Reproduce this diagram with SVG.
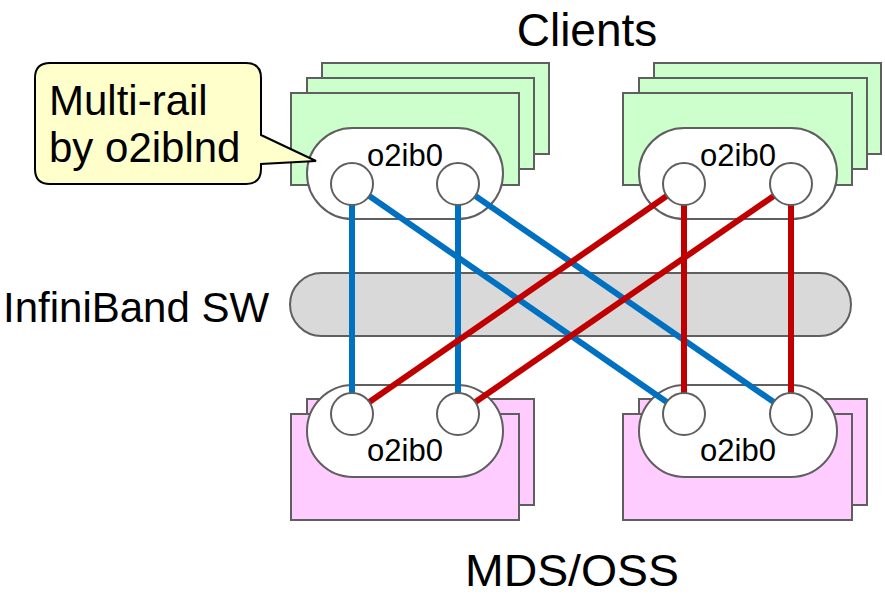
<svg xmlns="http://www.w3.org/2000/svg" width="885" height="596" viewBox="0 0 885 596">
<style>
.txt{font-family:"Liberation Sans",Arial,sans-serif;fill:#000}
.big{font-size:46px}
.mid{font-size:42px}
.lbl{font-size:31px;text-anchor:middle}
.cl{fill:#CCFFCC;stroke:#5F5F5F;stroke-width:2}
.sv{fill:#FFCCFF;stroke:#5F5F5F;stroke-width:2}
.pill{fill:#FFFFFF;stroke:#5F5F5F;stroke-width:2}
.port{fill:#FFFFFF;stroke:#5F5F5F;stroke-width:2}
.sw{fill:#D9D9D9;stroke:#5F5F5F;stroke-width:2}
.b{stroke:#0070C0;stroke-width:6;fill:none}
.r{stroke:#C00000;stroke-width:6;fill:none}
</style>

<text class="txt big" x="587" y="46" text-anchor="middle" font-size="47">Clients</text>
<text class="txt mid" x="3" y="322">InfiniBand SW</text>
<text class="txt" x="572" y="586" text-anchor="middle" font-size="45" textLength="214" lengthAdjust="spacingAndGlyphs">MDS/OSS</text>

<g id="switch">
<rect class="sw" x="290" y="273" width="561" height="63" rx="31.5" ry="31.5"/>
</g>

<g id="client-left">
<rect class="cl" x="322" y="63" width="227" height="91"/>
<rect class="cl" x="307" y="78" width="227" height="91"/>
<rect class="cl" x="291" y="93" width="228" height="92"/>
<rect class="pill" x="307" y="128" width="196" height="91" rx="45.5" ry="45.5"/>
</g>

<g id="client-right">
<rect class="cl" x="654" y="63" width="227" height="91"/>
<rect class="cl" x="639" y="78" width="228" height="91"/>
<rect class="cl" x="623" y="93" width="229" height="92"/>
<rect class="pill" x="639" y="128" width="198" height="91" rx="45.5" ry="45.5"/>
</g>

<g id="server-left">
<rect class="sv" x="307" y="399" width="227" height="106"/>
<rect class="sv" x="291" y="414" width="228" height="106"/>
<rect class="pill" x="307" y="385" width="196" height="92" rx="46" ry="46"/>
</g>

<g id="server-right">
<rect class="sv" x="639" y="399" width="228" height="106"/>
<rect class="sv" x="623" y="414" width="229" height="106"/>
<rect class="pill" x="639" y="385" width="198" height="92" rx="46" ry="46"/>
</g>

<g id="connectors">
<line class="b" x1="352" y1="184" x2="352" y2="414"/>
<line class="b" x1="458" y1="184" x2="458" y2="414"/>
<line class="b" x1="352" y1="184" x2="684" y2="414"/>
<line class="b" x1="458" y1="184" x2="791" y2="414"/>
<line class="r" x1="684" y1="184" x2="684" y2="414"/>
<line class="r" x1="791" y1="184" x2="791" y2="414"/>
<line class="r" x1="684" y1="184" x2="352" y2="414"/>
<line class="r" x1="791" y1="184" x2="458" y2="414"/>
</g>

<g id="client-left-ports">
<circle class="port" cx="352" cy="184" r="21"/>
<circle class="port" cx="458" cy="184" r="21"/>
<text class="txt lbl" x="405" y="166">o2ib0</text>
</g>
<g id="client-right-ports">
<circle class="port" cx="684" cy="184" r="21"/>
<circle class="port" cx="791" cy="184" r="21"/>
<text class="txt lbl" x="738" y="166">o2ib0</text>
</g>
<g id="server-left-ports">
<circle class="port" cx="352" cy="414" r="21"/>
<circle class="port" cx="458" cy="414" r="21"/>
<text class="txt lbl" x="405" y="461">o2ib0</text>
</g>
<g id="server-right-ports">
<circle class="port" cx="684" cy="414" r="21"/>
<circle class="port" cx="791" cy="414" r="21"/>
<text class="txt lbl" x="738" y="461">o2ib0</text>
</g>

<g id="callout">
<path d="M50,63 H246 Q261,63 261,78 V135 L316,161 L261,164 V169 Q261,184 246,184 H50 Q35,184 35,169 V78 Q35,63 50,63 Z" fill="#FFFFCC" stroke="#000" stroke-width="2" stroke-linejoin="miter"/>
<text class="txt mid" x="49" y="115">Multi-rail</text>
<text class="txt mid" x="49" y="162">by o2iblnd</text>
</g>
</svg>
